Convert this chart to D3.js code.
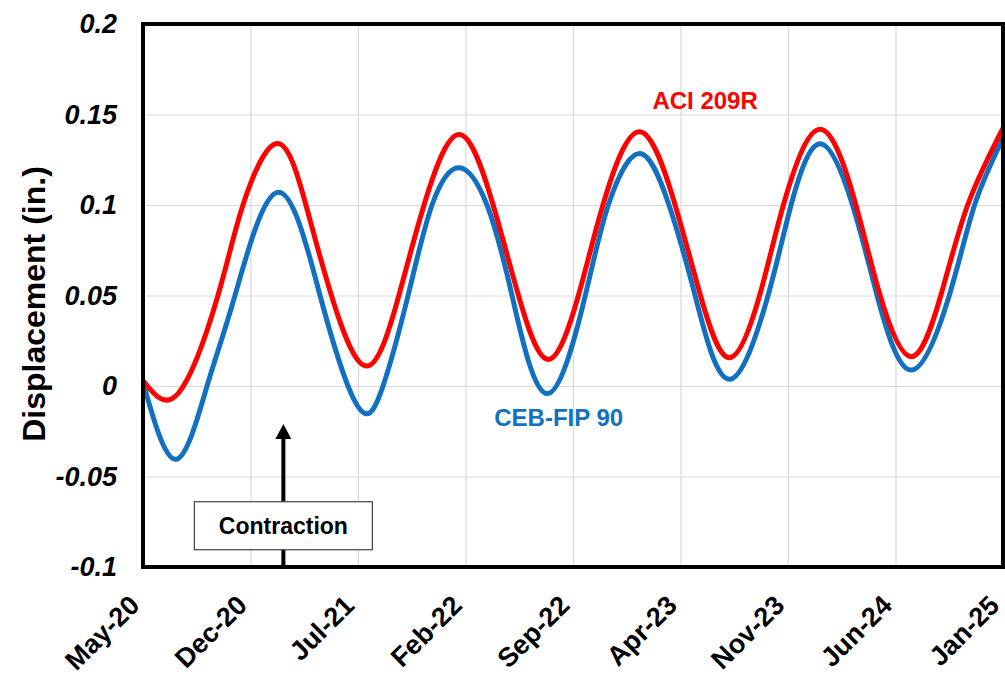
<!DOCTYPE html>
<html>
<head>
<meta charset="utf-8">
<script src="https://cdn.jsdelivr.net/npm/d3@7"></script>
<style>
    body { margin: 0; background: #ffffff; }
    svg { font-family: "Liberation Sans", Arial, Helvetica, sans-serif; }
</style>
</head>
<body>
<svg id="drawing_region"></svg>
<script>
// x is months after May-20
const tickLabels = ['May-20', 'Dec-20', 'Jul-21', 'Feb-22', 'Sep-22', 'Apr-23', 'Nov-23', 'Jun-24', 'Jan-25'];
const tickMonths = [0, 7, 14, 21, 28, 35, 42, 49, 56];
const yTicks = [-0.1, -0.05, 0, 0.05, 0.1, 0.15, 0.2];
const yTickLabels = ['-0.1', '-0.05', '0', '0.05', '0.1', '0.15', '0.2'];

const aciMonths = [0, 2.3, 4.88, 6.51, 8.75, 10.61, 12.27, 14.57, 16.66, 18.3, 20.58, 22.8, 24.45, 26.39,
    28.35, 29.95, 32.32, 34.65, 36.3, 38.18, 40.15, 41.7, 44.09, 46.42, 48.0, 50.01, 51.95, 53.7, 56];
const aciValues = [0.003, -0.004, 0.05, 0.1, 0.134, 0.1, 0.05, 0.011, 0.05, 0.1, 0.139, 0.1, 0.05, 0.0147,
    0.05, 0.1, 0.1405, 0.1, 0.05, 0.0156, 0.05, 0.1, 0.1418, 0.1, 0.05, 0.0162, 0.05, 0.1, 0.1425];

const cebMonths = [0, 2.15, 4.17, 5.99, 8.81, 11.53, 13.35, 14.52, 15.63, 17.26, 18.82, 20.6,
    22.4, 24.03, 26.33, 28.8, 30.3, 32.32, 34.25, 35.95, 38.18, 40.7, 42.2, 44.09, 46.2, 47.8,
    50.01, 52.5, 54.15, 56];
const cebValues = [0.002, -0.0405, 0, 0.05, 0.107, 0.05, 0, -0.0153, 0, 0.05, 0.1, 0.1206,
    0.1, 0.05, -0.0042, 0.05, 0.1, 0.1285, 0.1, 0.05, 0.0037, 0.05, 0.1, 0.1338, 0.1, 0.05,
    0.0088, 0.05, 0.1, 0.137];

const seriesNames = ['CEB-FIP 90', 'ACI 209R'];
const seriesColors = ['#1170c0', '#ff0000'];

class LineChart {

    constructor( config ) {
        this.config = {
            parent: config.parent,
            width: config.width || 1005,
            height: config.height || 687,
            margin: config.margin || {top:24, right:2, bottom:120, left:143}
        }
        this.init();
    }

    init() {
        let self = this;

        self.svg = d3.select( self.config.parent )
            .attr('width', self.config.width)
            .attr('height', self.config.height);

        self.inner_width = self.config.width - self.config.margin.left - self.config.margin.right;
        self.inner_height = self.config.height - self.config.margin.top - self.config.margin.bottom;

        self.chart = self.svg.append('g')
            .attr('transform', `translate(${self.config.margin.left}, ${self.config.margin.top})`);

        self.xscale = d3.scaleLinear()
            .domain([0, 56])
            .range([0, self.inner_width]);

        self.yscale = d3.scaleLinear()
            .domain([-0.1, 0.2])
            .range([self.inner_height, 0]);

        self.line = d3.line()
            .x(d => self.xscale(d.m))
            .y(d => self.yscale(d.v))
            .curve(d3.curveNatural);
    }

    render() {
        let self = this;

        // grid
        self.chart.append('g')
            .call(d3.axisLeft(self.yscale).tickValues(yTicks).tickSize(-self.inner_width).tickFormat(''))
            .call(g => g.select('.domain').remove())
            .call(g => g.selectAll('line').attr('stroke', '#d9d9d9').attr('stroke-width', 1.2));

        self.chart.append('g')
            .attr('transform', `translate(0, ${self.inner_height})`)
            .call(d3.axisBottom(self.xscale).tickValues(tickMonths).tickSize(-self.inner_height).tickFormat(''))
            .call(g => g.select('.domain').remove())
            .call(g => g.selectAll('line').attr('stroke', '#d9d9d9').attr('stroke-width', 1.2));

        // lines
        const series = [
            cebMonths.map((m, i) => ({m: m, v: cebValues[i]})),
            aciMonths.map((m, i) => ({m: m, v: aciValues[i]}))
        ];
        series.forEach((s, i) => {
            self.chart.append('path')
                .attr('d', self.line(s))
                .attr('fill', 'none')
                .attr('stroke', seriesColors[i])
                .attr('stroke-width', 5)
                .attr('stroke-linejoin', 'round');
        });

        // frame
        self.chart.append('rect')
            .attr('width', self.inner_width)
            .attr('height', self.inner_height)
            .attr('fill', 'none')
            .attr('stroke', '#000')
            .attr('stroke-width', 4);

        // y tick labels
        self.chart.append('g')
            .attr('transform', 'translate(-26, 0)')
            .call(d3.axisLeft(self.yscale).tickValues(yTicks).tickSize(0)
                .tickFormat((d, i) => yTickLabels[i]))
            .call(g => g.select('.domain').remove())
            .call(g => g.selectAll('text')
                .attr('font-family', '"Liberation Sans", Arial, sans-serif')
                .attr('font-size', 27)
                .attr('font-weight', 'bold')
                .attr('font-style', 'italic')
                .attr('fill', '#000')
                .attr('x', 0));

        // x tick labels
        self.chart.append('g')
            .selectAll('text')
            .data(tickMonths)
            .join('text')
            .attr('transform', d => `translate(${self.xscale(d) - 2}, ${self.inner_height + 40}) rotate(-45)`)
            .attr('text-anchor', 'end')
            .attr('font-size', 27)
            .attr('font-weight', 'bold')
            .text((d, i) => tickLabels[i]);

        // y axis title
        self.svg.append('text')
            .attr('transform', `translate(45, 304) rotate(-90)`)
            .attr('text-anchor', 'middle')
            .attr('font-size', 32)
            .attr('font-weight', 'bold')
            .text('Displacement (in.)');

        // series labels
        self.chart.append('text')
            .attr('x', self.xscale(36.6))
            .attr('y', self.yscale(0.153))
            .attr('text-anchor', 'middle')
            .attr('font-size', 24)
            .attr('font-weight', 'bold')
            .attr('fill', seriesColors[1])
            .text(seriesNames[1]);

        self.chart.append('text')
            .attr('x', self.xscale(27.07))
            .attr('y', self.yscale(-0.022))
            .attr('text-anchor', 'middle')
            .attr('font-size', 24)
            .attr('font-weight', 'bold')
            .attr('fill', seriesColors[0])
            .text(seriesNames[0]);

        // contraction arrow + box
        const ax = self.xscale(9.14);
        const tipY = self.yscale(-0.021);
        self.chart.append('line')
            .attr('x1', ax).attr('x2', ax)
            .attr('y1', self.inner_height).attr('y2', tipY + 12)
            .attr('stroke', '#000')
            .attr('stroke-width', 4);
        self.chart.append('path')
            .attr('d', `M${ax},${tipY} L${ax - 8},${tipY + 15} L${ax + 8},${tipY + 15} Z`)
            .attr('fill', '#000');

        const boxW = 178, boxH = 48;
        const by = self.yscale(-0.0772);
        self.chart.append('rect')
            .attr('x', ax - boxW / 2)
            .attr('y', by - boxH / 2)
            .attr('width', boxW)
            .attr('height', boxH)
            .attr('fill', '#fff')
            .attr('stroke', '#404040')
            .attr('stroke-width', 1.2);
        self.chart.append('text')
            .attr('x', ax)
            .attr('y', by)
            .attr('dy', '0.36em')
            .attr('text-anchor', 'middle')
            .attr('font-size', 23)
            .attr('font-weight', 'bold')
            .text('Contraction');
    }
}

const chart = new LineChart({ parent: '#drawing_region' });
chart.render();
</script>
</body>
</html>
